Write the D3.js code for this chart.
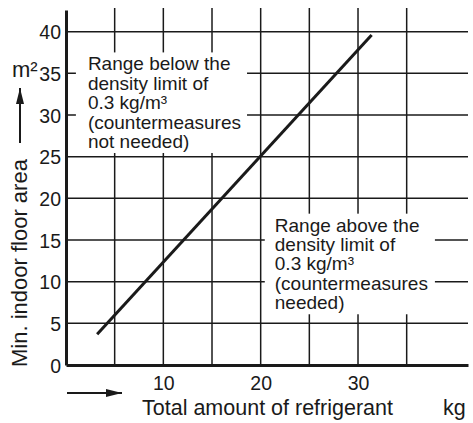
<!DOCTYPE html>
<html>
<head>
<meta charset="utf-8">
<script src="https://cdn.jsdelivr.net/npm/d3@7"></script>
<style>
  body { margin: 0; background: #fff; }
  text { font-family: "Liberation Sans", Arial, sans-serif; fill: #1a1a1a; }
</style>
</head>
<body>
<div id="chart"></div>
<script>
// values
var xTicks = [10, 20, 30]
var yTicks = [0, 5, 10, 15, 20, 25, 30, 35, 40]
var xGrid = [5, 10, 15, 20, 25, 30, 35]
var yGrid = [5, 10, 15, 20, 25, 30, 35, 40]
var limitLine = [[3.2, 3.7], [31.4, 39.6]]   // kg, m²
var belowText = ["Range below the", "density limit of", "0.3 kg/m³", "(countermeasures", "not needed)"]
var aboveText = ["Range above the", "density limit of", "0.3 kg/m³", "(countermeasures", "needed)"]
var belowAnchor = [2.25, 35.35]
var aboveAnchor = [21.45, 16.0]

var width = 473,
    height = 423

var x = d3.scaleLinear().domain([0, 41.3]).range([66, 468])
var y = d3.scaleLinear().domain([0, 42.6]).range([365, 10])

var svg = d3.select("#chart")
  .append("svg")
    .attr("width", width)
    .attr("height", height)

var ink = "#1a1a1a"

// grid
svg.append("g").selectAll("line")
  .data(yGrid)
  .enter().append("line")
    .attr("x1", x(0)).attr("x2", x.range()[1])
    .attr("y1", d => y(d)).attr("y2", d => y(d))
    .attr("stroke", ink).attr("stroke-width", 1.5)

svg.append("g").selectAll("line")
  .data(xGrid)
  .enter().append("line")
    .attr("x1", d => x(d)).attr("x2", d => x(d))
    .attr("y1", y(0)).attr("y2", y.range()[1] - 2)
    .attr("stroke", ink).attr("stroke-width", 1.5)

// annotation blocks, white box knocks out the grid behind the text
function note(lines, anchor, padL, padR) {
  var g = svg.append("g")
  var t = g.append("text")
    .attr("x", x(anchor[0]))
    .attr("y", y(anchor[1]))
    .style("font-size", "19px")
  t.selectAll("tspan")
    .data(lines)
    .enter().append("tspan")
      .attr("x", x(anchor[0]))
      .attr("dy", (d, i) => i == 0 ? 0 : 19.4)
      .text(d => d)
  var b = t.node().getBBox()
  g.insert("rect", "text")
    .attr("x", b.x - padL)
    .attr("y", b.y - 1)
    .attr("width", b.width + padL + padR)
    .attr("height", b.height + 2)
    .attr("fill", "#fff")
}
note(belowText, belowAnchor, 12, 6)
note(aboveText, aboveAnchor, 10, 7)

// axes
var xAxis = d3.axisBottom(x).tickValues(xTicks).tickSize(0).tickPadding(11)
var yAxis = d3.axisLeft(y).tickValues(yTicks).tickSize(0).tickPadding(5)

var gx = svg.append("g")
  .attr("transform", "translate(0," + y(0) + ")")
  .call(xAxis)
gx.select(".domain").attr("stroke", ink).attr("stroke-width", 3)
gx.selectAll("text").style("font-size", "19.5px").attr("fill", ink)

var gy = svg.append("g")
  .attr("transform", "translate(" + x(0) + ",0)")
  .call(yAxis)
gy.select(".domain").attr("stroke", ink).attr("stroke-width", 3)
gy.selectAll("text").style("font-size", "19.5px").attr("fill", ink).attr("dy", "0.36em")

// the limit line
svg.append("path")
  .datum(limitLine)
  .attr("d", d3.line().x(d => x(d[0])).y(d => y(d[1])))
  .attr("fill", "none")
  .attr("stroke", ink)
  .attr("stroke-width", 3)

// axis titles and arrows
svg.append("defs").append("marker")
    .attr("id", "head")
    .attr("viewBox", "0 0 16 8")
    .attr("refX", 16).attr("refY", 4)
    .attr("markerWidth", 16).attr("markerHeight", 8)
    .attr("markerUnits", "userSpaceOnUse")
    .attr("orient", "auto")
  .append("path")
    .attr("d", "M0,0 L16,4 L0,8 Z")
    .attr("fill", ink)

svg.append("line")
  .attr("x1", 67).attr("x2", 122)
  .attr("y1", 393).attr("y2", 393)
  .attr("stroke", ink).attr("stroke-width", 2)
  .attr("marker-end", "url(#head)")

svg.append("text")
  .attr("x", 142).attr("y", 415)
  .style("font-size", "21.5px")
  .text("Total amount of refrigerant")

svg.append("text")
  .attr("x", 443).attr("y", 415)
  .style("font-size", "21.5px")
  .text("kg")

svg.append("line")
  .attr("x1", 20).attr("x2", 20)
  .attr("y1", 143).attr("y2", 88)
  .attr("stroke", ink).attr("stroke-width", 2)
  .attr("marker-end", "url(#head)")

svg.append("text")
  .attr("transform", "translate(27,367) rotate(-90)")
  .style("font-size", "22px")
  .text("Min. indoor floor area")

svg.append("text")
  .attr("x", 12).attr("y", 77)
  .style("font-size", "22px")
  .text("m²")
</script>
</body>
</html>
